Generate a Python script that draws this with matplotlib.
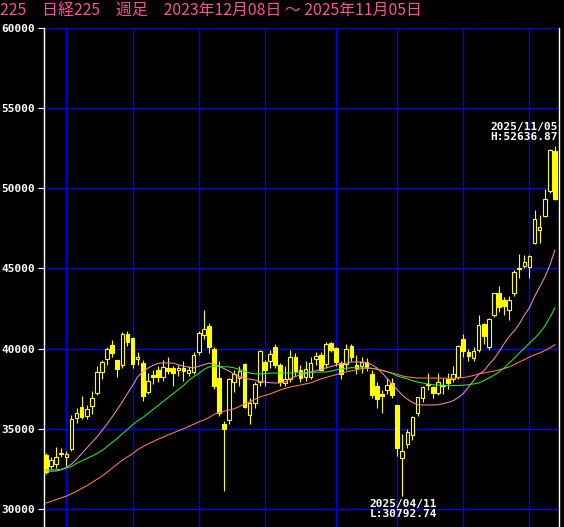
import numpy as np
import pandas as pd
import matplotlib
matplotlib.use("Agg")
from matplotlib import pyplot as plt

# weekly OHLC, Nikkei 225
opens = [33370, 32700, 32810, 33420, 33240, 33740, 35680, 36360, 35800, 36420,
         37240, 38540, 39350, 40230, 39290, 38980, 40920, 40670, 39350, 39110,
         37300, 38360, 38670, 38230, 38790, 38790, 38670, 38790, 38480, 38540,
         39790, 40850, 41410, 39980, 38170, 35300, 35550, 37920, 38170, 39040,
         35860, 36610, 37900, 39170, 39230, 40100, 38980, 37860, 38100, 39480,
         38670, 38230, 38230, 39350, 39600, 39040, 40350, 40040, 39110, 39040,
         40170, 38980, 38900, 39170, 38420, 37670, 37200, 37420, 37860, 36490,
         33180, 34050, 34620, 35990, 36920, 37800, 37600, 37240, 37700, 38100,
         38100, 38230, 40600, 39790, 39420, 39900, 41540, 40100, 42100, 43470,
         43030, 42410, 43470, 44950, 45160, 45090, 46590, 47400, 48270, 49830,
         52340]
highs = [33500, 33250, 33880, 33800, 33620, 35860, 36300, 37050, 36490, 37360,
         38920, 39300, 40100, 40540, 39290, 41040, 41100, 40700, 39800, 39300,
         38500, 38700, 38900, 39300, 39500, 38900, 39000, 39200, 38900, 39800,
         41100, 42430, 41600, 40100, 39230, 35500, 38200, 38700, 38900, 39100,
         36900, 37900, 39900, 39300, 39900, 40300, 39100, 38900, 39900, 39700,
         39000, 39200, 39500, 39800, 39800, 40400, 40400, 40100, 39200, 40300,
         40300, 39600, 39500, 39400, 38700, 37900, 37400, 38200, 38200, 36500,
         34680, 35000, 35800, 37000, 37700, 38480, 37700, 38480, 38200, 38500,
         38920, 40200, 40920, 40000, 40100, 42100, 41600, 41900, 43500, 43900,
         43200, 43300, 44900, 45900, 45840, 45850, 48650, 48340, 49960, 52450,
         52636.87]
lows = [32180, 32520, 32560, 33240, 32700, 33600, 35360, 35600, 35610, 35930,
        37110, 38110, 38980, 39480, 38230, 38800, 40170, 38790, 39000, 36750,
        37200, 37800, 37900, 38000, 38400, 37700, 38300, 38000, 38300, 38400,
        39600, 40600, 39700, 37500, 35800, 31150, 35300, 37300, 37700, 36300,
        35300, 36300, 37700, 37650, 38800, 38800, 37700, 37650, 37900, 38300,
        37900, 38000, 38100, 39000, 38600, 38800, 39800, 38900, 38100, 38700,
        39200, 38400, 38500, 38600, 36900, 36300, 35990, 37200, 36900, 33300,
        30792.74, 33800, 34300, 35800, 36700, 37400, 36900, 37100, 37200, 37500,
        37900, 38100, 39500, 39200, 39200, 39800, 40300, 39900, 42000, 42300,
        42100, 41800, 43300, 44400, 45000, 44400, 46500, 46590, 48200, 49700,
        49270]
closes = [32310, 33060, 33240, 33470, 33400, 35610, 35990, 35740, 36240, 36920,
          38540, 39170, 39980, 39730, 38730, 40920, 40420, 39040, 39480, 37050,
          37980, 38230, 38230, 38860, 38610, 38480, 38790, 38610, 38670, 39600,
          40980, 41230, 40100, 37670, 35990, 35000, 38110, 38420, 38610, 36360,
          36610, 37800, 39830, 38640, 39670, 38980, 37920, 38110, 39500, 38610,
          38170, 38730, 39110, 39540, 38700, 40290, 39920, 39170, 38420, 39980,
          39480, 38790, 39150, 38860, 37110, 36860, 37053, 37730, 37110, 33800,
          33620, 34800, 35740, 36990, 37600, 37750, 37240, 37920, 37740, 37860,
          38420, 40170, 39850, 39540, 39850, 41480, 40790, 41850, 43470, 42600,
          42660, 43030, 44780, 45030, 45400, 45780, 48090, 47580, 49330, 52400,
          49340]

# moving averages: 13 week (pink), 26 week (green), 52 week (orange)
ma13 = [32370, 32360, 32370, 32450, 32600, 32800, 33100, 33450, 33800, 34150,
        34500, 34900, 35300, 35750, 36200, 36700, 37200, 37700, 38250, 38550,
        38780, 38950, 39080, 39110, 39110, 39100, 39000, 38900, 38850, 38800,
        38900, 39000, 39100, 39050, 38900, 38750, 38600, 38400, 38250, 38170,
        38100, 38050, 37950, 37920, 37880, 37860, 37860, 37920, 38150, 38270,
        38360, 38450, 38550, 38620, 38700, 38800, 38880, 38980, 39050, 39100,
        39170, 39170, 39170, 39130, 39000, 38800, 38500, 38150, 37800, 37450,
        37100, 36850, 36650, 36500, 36490, 36490, 36490, 36500, 36570, 36650,
        36750, 36950, 37200, 37600, 38000, 38400, 38600, 39000, 39350, 39800,
        40300, 40750, 41100, 41550, 42100, 42550, 43250, 43850, 44450, 45200,
        46150]
ma26 = [32430, 32440, 32450, 32480, 32550, 32650, 32850, 33000, 33150, 33300,
        33450, 33650, 33900, 34150, 34400, 34700, 34950, 35250, 35500, 35700,
        35950, 36200, 36450, 36700, 36950, 37200, 37450, 37700, 38000, 38250,
        38450, 38700, 38860, 38900, 38880, 38870, 38860, 38800, 38700, 38600,
        38480, 38430, 38420, 38440, 38470, 38480, 38480, 38480, 38480, 38490,
        38500, 38510, 38520, 38530, 38540, 38550, 38600, 38680, 38730, 38780,
        38810, 38810, 38800, 38790, 38770, 38720, 38650, 38560, 38450, 38300,
        38200, 38120, 38000, 37920, 37860, 37800, 37750, 37730, 37720, 37700,
        37700, 37700, 37720, 37750, 37800, 37860, 38000, 38170, 38350, 38540,
        38800, 39100, 39400, 39730, 40030, 40350, 40650, 40980, 41400, 41950,
        42550]
ma52 = [30370, 30480, 30590, 30700, 30800, 30950, 31100, 31280, 31450, 31650,
        31850, 32050, 32300, 32550, 32800, 33050, 33250, 33450, 33700, 33880,
        34050, 34200, 34350, 34480, 34620, 34750, 34880, 35000, 35150, 35280,
        35430, 35550, 35700, 35900, 36000, 36100, 36170, 36250, 36400, 36550,
        36670, 36830, 36990, 37080, 37170, 37300, 37420, 37520, 37610, 37670,
        37730, 37800, 37870, 37990, 38110, 38200, 38290, 38380, 38480, 38550,
        38610, 38680, 38750, 38790, 38780, 38720, 38650, 38570, 38480, 38400,
        38300, 38240, 38200, 38170, 38170, 38170, 38170, 38160, 38160, 38160,
        38170, 38180, 38200, 38250, 38330, 38420, 38480, 38540, 38600, 38670,
        38760, 38860, 39000, 39170, 39320, 39480, 39620, 39730, 39880, 40040,
        40250]

# week labels (Friday of each week, the new-year week only traded on 12/30)
dates = list(pd.date_range("2023-12-08", "2025-10-31", freq="W-FRI"))
dates[56] = pd.Timestamp("2024-12-30")
dates.append(pd.Timestamp("2025-11-05"))

y_ticks = [30000, 35000, 40000, 45000, 50000, 55000, 60000]
title = "225\u3000日経225\u3000週足\u30002023年12月08日 ～ 2025年11月05日"

W, H = 564, 527
fig = plt.figure(figsize=(W / 100, H / 100), dpi=100, facecolor="black")
ax = fig.add_axes([44 / W, 0, 515 / W, (H - 28) / H], facecolor="black")

x = np.arange(len(closes))
o = np.array(opens, float)
c = np.array(closes, float)
up = c >= o
yellow = "#ffff00"

# wicks, then bodies (hollow = up week, filled = down week)
ax.vlines(x, lows, highs, color=yellow, lw=0.8, zorder=3)
ax.bar(x, np.abs(c - o), bottom=np.minimum(o, c), width=0.72,
       color=np.where(up, "black", yellow), edgecolor=yellow, lw=0.8, zorder=4)

ax.plot(x, ma13, color="#ee88cc", lw=0.75, zorder=5)
ax.plot(x, ma26, color="#22ee22", lw=0.75, zorder=5)
ax.plot(x, ma52, color="#ff7f4a", lw=0.75, zorder=5)

# quarter gridlines: first week of Jan/Apr/Jul/Oct
qx = [i for i in range(1, len(dates))
      if dates[i].month in (1, 4, 7, 10) and dates[i].month != dates[i - 1].month]
ax.set_xticks(qx)
ax.set_xticklabels([])
ax.tick_params(axis="x", length=0)
ax.set_yticks(y_ticks)
ax.set_yticklabels([str(v) for v in y_ticks], color="white",
                   family="DejaVu Sans Mono", fontweight="bold", fontsize=8)
ax.tick_params(axis="y", colors="white", length=4.3, width=0.8, pad=2)
ax.grid(True, color="#0000ff", lw=1.0)
ax.set_axisbelow(True)

ax.set_xlim(-0.4, 100.8)
ax.set_ylim(30000 - 18 / 16.033 * 1000, 60000)
for s in ["top", "bottom"]:
    ax.spines[s].set_visible(False)
for s in ["left", "right"]:
    ax.spines[s].set_color("white")
    ax.spines[s].set_linewidth(1.0)

# high / low labels
ih = int(np.argmax(highs))
il = int(np.argmin(lows))
ax.annotate(dates[ih].strftime("%Y/%m/%d") + "\nH:%.2f" % highs[ih],
            xy=(ih, highs[ih]), xytext=(3, 4), textcoords="offset pixels",
            ha="right", va="bottom", color="white", family="DejaVu Sans Mono",
            fontweight="bold", fontsize=8, linespacing=1.0, zorder=6)
ax.annotate(dates[il].strftime("%Y/%m/%d") + "\nL:%.2f" % lows[il],
            xy=(il, lows[il]), xytext=(1, -3), textcoords="offset pixels",
            ha="center", va="top", color="white", family="DejaVu Sans Mono",
            fontweight="bold", fontsize=8, linespacing=1.0, zorder=6)

fig.text(0, 1 - 11 / H, title, color="#ff4fa0", fontsize=11.4, va="center",
         ha="left", family=["Noto Sans CJK JP", "DejaVu Sans"])

fig.savefig("out.png", dpi=100, facecolor="black")
